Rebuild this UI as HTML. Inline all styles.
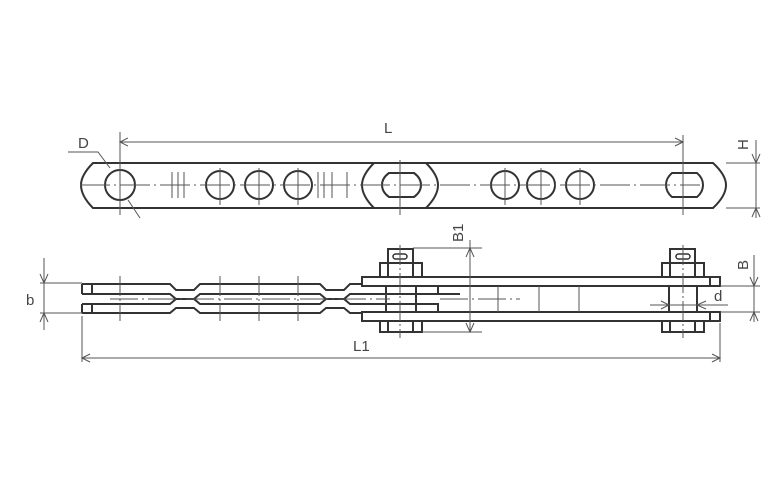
<!DOCTYPE html>
<html><head><style>html,body{margin:0;padding:0;background:#fff}svg{display:block}</style></head><body>
<svg width="781" height="500" viewBox="0 0 781 500" xmlns="http://www.w3.org/2000/svg" font-family="Liberation Sans, sans-serif">
<g fill="none" stroke="#333" stroke-width="2">
<!-- top plate -->
<path d="M93,163 L713,163 Q726,175 726,185 Q726,196 713,208 L93,208 Q81,196 81,185 Q81,175 93,163 Z"/>
<circle cx="120" cy="185" r="15"/>
<circle cx="220" cy="185" r="14"/>
<circle cx="259" cy="185" r="14"/>
<circle cx="298" cy="185" r="14"/>
<circle cx="505" cy="185" r="14"/>
<circle cx="541" cy="185" r="14"/>
<circle cx="580" cy="185" r="14"/>
<path d="M374,163 Q362,175 362,185 Q362,196 374,208 M426,163 Q438,175 438,185 Q438,196 426,208"/>
<path d="M389,173 L414,173 Q421,178 421,185 Q421,192 414,197 L389,197 Q382,192 382,185 Q382,178 389,173 Z"/>
<path d="M672,173 L697,173 Q703,178 703,185 Q703,192 697,197 L672,197 Q666,192 666,185 Q666,178 672,173 Z"/>
</g>
<g fill="none" stroke="#555" stroke-width="1">
<path d="M68,152 L98,152 L110,168"/>
<path d="M128,200 L140,218"/>
<path d="M80,185 L700,185" stroke-dasharray="30,4,2,4"/>
<path d="M120,132 V215 M220,168 V205 M259,168 V205 M298,168 V205 M400,160 V215 M505,168 V205 M541,168 V205 M580,168 V205 M683,135 V215"/>
<path d="M172,172 V198 M178,172 V198 M184,172 V198 M318,172 V198 M324,172 V198 M332,172 V198 M347,172 V198"/>
<path d="M120,142 H683 M128,138 L120,142 L128,146 M675,138 L683,142 L675,146"/>
<path d="M726,163 H760 M726,208 H760 M756,140 V218 M752,154 L756,163 L760,154 M752,217 L756,208 L760,217"/>
</g>
<g fill="none" stroke="#333" stroke-width="2">
<!-- bottom view left plates -->
<path d="M82,284 H170 L176,290 H194 L200,284 H320 L326,290 H344 L350,284 H362"/>
<path d="M82,294 H170 L176,299 H194 L200,294 H320 L326,299 H344 L350,294 H386"/>
<path d="M82,304 H170 L176,299 H194 L200,304 H320 L326,299 H344 L350,304 H386"/>
<path d="M82,313 H170 L176,308 H194 L200,313 H320 L326,308 H344 L350,313 H362"/>
<path d="M82,284 V294 M92,284 V294 M82,304 V313 M92,304 V313"/>
<!-- outer plates -->
<rect x="362" y="277" width="358" height="9"/>
<rect x="362" y="312" width="358" height="9"/>
<path d="M710,277 V286 M710,312 V321"/>
<path d="M386,286 H438 V294 H386 M386,304 H438 V312 H386 M386,286 V312 M416,286 V312 M438,294 H460"/>
<!-- nuts -->
<rect x="380" y="263" width="42" height="14"/><rect x="388" y="249" width="25" height="14"/>
<path d="M388,263 V277 M413,263 V277"/>
<rect x="380" y="321" width="42" height="11"/><path d="M388,321 V332 M413,321 V332"/>
<rect x="662" y="263" width="42" height="14"/><rect x="670" y="249" width="25" height="14"/>
<path d="M670,263 V277 M695,263 V277"/>
<rect x="662" y="321" width="42" height="11"/><path d="M670,321 V332 M695,321 V332"/>
<rect x="669" y="286" width="28" height="26"/>
<rect x="393" y="254" width="14" height="5" rx="2.5" stroke-width="1.5"/>
<rect x="676" y="254" width="14" height="5" rx="2.5" stroke-width="1.5"/>
</g>
<g fill="none" stroke="#555" stroke-width="1">
<path d="M498,286 V312 M539,286 V312 M579,286 V312 M386,294 V304"/>
<path d="M110,299 H390 M440,299 H520" stroke-dasharray="28,4,2,4"/>
<path d="M120,276 V321 M220,276 V321 M259,276 V321 M298,276 V321 M400,245 V338 M683,245 V338" stroke-dasharray="20,3,2,3"/>
<path d="M44,258 V330 M40,274 L44,283 L48,274 M40,322 L44,313 L48,322 M40,283 H82 M40,313 H82"/>
<path d="M82,316 V362 M720,323 V362 M82,358 H720 M90,354 L82,358 L90,362 M712,354 L720,358 L712,362"/>
<path d="M413,248 H482 M422,332 H482 M470,240 V332 M466,257 L470,248 L474,257 M466,323 L470,332 L474,323"/>
<path d="M720,286 H760 M720,312 H760 M754,255 V322 M750,277 L754,286 L758,277 M750,321 L754,312 L758,321"/>
<path d="M650,305 H728 M661,301 L669,305 L661,309 M706,301 L697,305 L706,309"/>
</g>
<g fill="#444" font-size="15">
<text x="78" y="148">D</text>
<text x="384" y="133">L</text>
<text x="353" y="351">L1</text>
<text x="26" y="305">b</text>
<text x="714" y="301">d</text>
<text transform="translate(748,150) rotate(-90)">H</text>
<text transform="translate(748,270) rotate(-90)">B</text>
<text transform="translate(463,242) rotate(-90)">B1</text>
</g>
</svg>
</body></html>
